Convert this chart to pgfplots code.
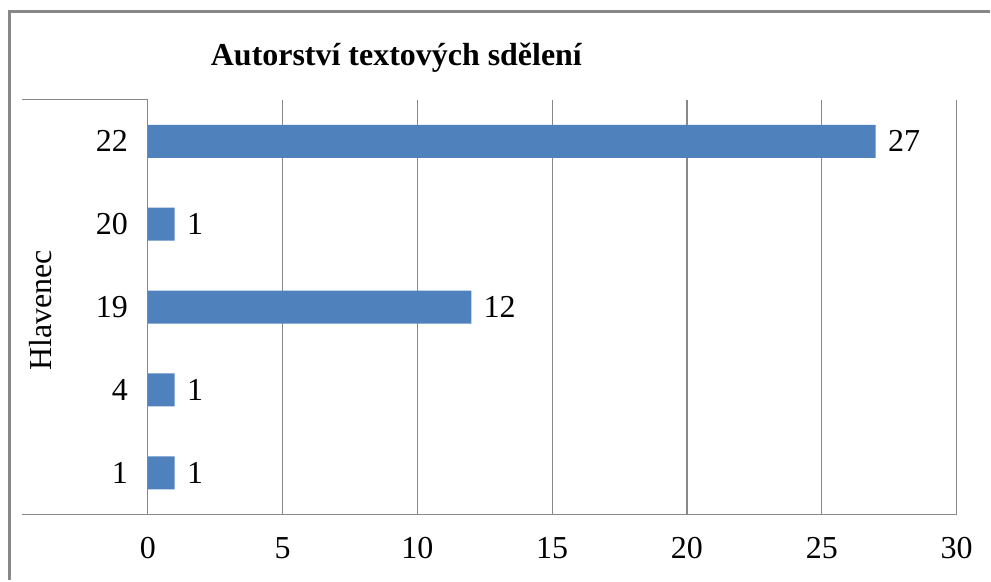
\documentclass[border=0pt]{standalone}
\usepackage{fontspec}
\setmainfont{Liberation Serif}
\usepackage{pgfplots}
\pgfplotsset{compat=1.18}
\definecolor{barblue}{HTML}{4F81BD}
\definecolor{gridgray}{HTML}{888888}
\begin{document}
\begin{tikzpicture}
% bounding box: 991 x 581 px at 0.5pt per px
\path (0pt,0pt) rectangle (495.5pt,290.5pt);
% outer frame
\draw[gridgray,line width=1.5pt] (4.75pt,0pt) -- (4.75pt,284.75pt) -- (495.5pt,284.75pt);
% title
\node[font=\bfseries\fontsize{16}{19}\selectfont] at (198.5pt,261.5pt) {Autorství textových sdělení};
% y label
\node[rotate=90,font=\fontsize{16}{19}\selectfont] at (20.5pt,135pt) {Hlavenec};
\begin{axis}[
  at={(74pt,33pt)}, anchor=south west,
  scale only axis,
  width=405pt, height=207.5pt,
  xbar, bar width=16.5pt,
  xmin=0, xmax=30, xtick={0,5,...,30},
  ymin=-0.5, ymax=4.5, ytick={0,1,2,3,4},
  yticklabels={1,4,19,20,22},
  axis line style={draw=none},
  major tick length=0pt,
  xmajorgrids, grid style={gridgray,line width=0.6pt},
  tick label style={font=\fontsize{16}{19}\selectfont},
  /pgf/number format/assume math mode=true,
  xticklabel style={yshift=-8pt},
  yticklabel style={xshift=-6.5pt},
  nodes near coords,
  nodes near coords style={font=\fontsize{16}{19}\selectfont, anchor=west, xshift=2.7pt},
  clip=false,
]
\addplot[fill=barblue, draw=none] coordinates {(1,0) (1,1) (12,2) (1,3) (27,4)};
\draw[gridgray,line width=0.6pt] (rel axis cs:-0.1556,0) -- (rel axis cs:1,0);
\draw[gridgray,line width=0.6pt] (rel axis cs:-0.1556,1) -- (rel axis cs:0,1) -- (rel axis cs:0,0);
\end{axis}
\end{tikzpicture}
\end{document}
